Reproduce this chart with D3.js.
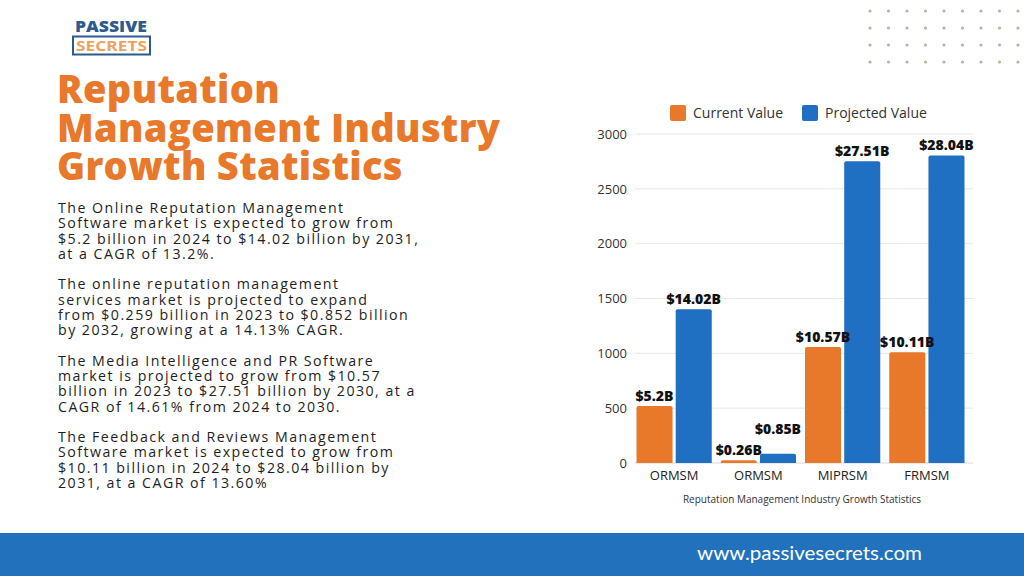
<!DOCTYPE html>
<html><head><meta charset="utf-8">
<script src="https://cdn.jsdelivr.net/npm/d3@7"></script>
<style>
html,body{margin:0;padding:0;background:#fff;}
svg{display:block;}
</style></head>
<body>
<svg id="c" width="1024" height="576"></svg>
<script>
// ---- data ----
const categories = ["ORMSM", "ORMSM ", "MIPRSM", "FRMSM"];
const seriesNames = ["Current Value", "Projected Value"];
const currentValues = [520, 26, 1057, 1011];
const projectedValues = [1402, 85, 2751, 2804];
const currentLabels = ["$5.2B", "$0.26B", "$10.57B", "$10.11B"];
const projectedLabels = ["$14.02B", "$0.85B", "$27.51B", "$28.04B"];
const yTicks = [0, 500, 1000, 1500, 2000, 2500, 3000];
const titleLines = ["Reputation", "Management Industry", "Growth Statistics"];
const paragraphs = [
  ["The Online Reputation Management", "Software market is expected to grow from", "$5.2 billion in 2024 to $14.02 billion by 2031,", "at a CAGR of 13.2%."],
  ["The online reputation management", "services market is projected to expand", "from $0.259 billion in 2023 to $0.852 billion", "by 2032, growing at a 14.13% CAGR."],
  ["The Media Intelligence and PR Software", "market is projected to grow from $10.57", "billion in 2023 to $27.51 billion by 2030, at a", "CAGR of 14.61% from 2024 to 2030."],
  ["The Feedback and Reviews Management", "Software market is expected to grow from", "$10.11 billion in 2024 to $28.04 billion by", "2031, at a CAGR of 13.60%"]
];

const ORANGE = "#E8782A", BLUE = "#1F6FC2";
const svg = d3.select("#c");

// ---- footer ----
svg.append("rect").attr("x",0).attr("y",533).attr("width",1024).attr("height",43).attr("fill","#2171BD");
svg.append("text").attr("x",697).attr("y",560).attr("font-family","Lato, sans-serif").attr("font-size",18.5)
  .attr("fill","#fff").text("www.passivesecrets.com")
  .each(function(){ const w=this.getComputedTextLength(); d3.select(this).attr("textLength",225).attr("lengthAdjust","spacingAndGlyphs"); });

// ---- dots ----
const dotG = svg.append("g");
for (let r=0;r<4;r++) for (let c=0;c<9;c++)
  dotG.append("circle").attr("cx",870+c*18.5).attr("cy",11+r*17).attr("r",1.6).attr("fill","#b8b4a4");

// ---- logo ----
svg.append("text").attr("x",111).attr("y",32).attr("text-anchor","middle").attr("font-family","'Open Sans', sans-serif")
  .attr("font-weight",800).attr("font-size",15).attr("fill","#2D5B8E").attr("textLength",72).attr("lengthAdjust","spacingAndGlyphs").text("PASSIVE");
svg.append("rect").attr("x",73).attr("y",36.5).attr("width",77).attr("height",18).attr("fill","none").attr("stroke","#2D5B8E").attr("stroke-width",2);
svg.append("text").attr("x",111.5).attr("y",51).attr("text-anchor","middle").attr("font-family","'Open Sans', sans-serif")
  .attr("font-weight",700).attr("font-size",14.5).attr("fill","#E9A460").attr("textLength",71).attr("lengthAdjust","spacingAndGlyphs").text("SECRETS");

// ---- title ----
const titleG = svg.append("g").attr("font-family","'Open Sans', sans-serif").attr("font-weight",800).attr("font-size",38).attr("fill",ORANGE);
const titleBase = [103, 142, 180];
const tt = titleG.selectAll("text").data(titleLines).join("text").attr("x",57).attr("y",(d,i)=>titleBase[i]).text(d=>d);
// fit letter-spacing to reference width of longest line
{
  const node = tt.nodes()[1];
  const w = node.getComputedTextLength();
  const ls = (443 - w) / (titleLines[1].length - 1);
  titleG.attr("letter-spacing", ls);
}

// ---- paragraphs ----
const pg = svg.append("g").attr("font-family","'Open Sans', sans-serif").attr("font-size",14.2).attr("fill","#1e1e1e");
paragraphs.forEach((lines,pi)=>{
  lines.forEach((ln,li)=>{
    pg.append("text").attr("x",58).attr("y",213 + pi*76.3 + li*15.3).text(ln);
  });
});
{
  const ref = pg.selectAll("text").nodes()[1];
  const w = ref.getComputedTextLength();
  const ls = (335 - w) / (paragraphs[0][1].length - 1);
  pg.attr("letter-spacing", ls);
}

// ---- chart ----
const y = d3.scaleLinear().domain([0,3000]).range([463,134]);
const x0 = d3.scaleBand().domain(categories).range([632,969]).padding(0);
const x1 = d3.scaleBand().domain(seriesNames).range([4.5, x0.bandwidth()-4.5]).paddingInner(0.08);

// gridlines
svg.append("g").selectAll("line").data(yTicks).join("line")
  .attr("x1",635).attr("x2",973).attr("y1",d=>y(d)).attr("y2",d=>y(d))
  .attr("stroke",d=>d===0?"#d8d8d8":"#e6e6e6").attr("stroke-width",1);

// y axis
const yAxis = svg.append("g").attr("transform","translate(627,0)")
  .call(d3.axisLeft(y).tickValues(yTicks).tickSize(0).tickPadding(0).tickFormat(d3.format("d")));
yAxis.select(".domain").remove();
yAxis.selectAll("text").attr("font-family","'Open Sans', sans-serif").attr("font-size",13).attr("fill","#333");

// x axis
const xAxis = svg.append("g").attr("transform","translate(0,468)")
  .call(d3.axisBottom(x0).tickSize(0).tickPadding(0).tickFormat(d=>d.trim()));
xAxis.select(".domain").remove();
xAxis.selectAll("text").attr("font-family","'Open Sans', sans-serif").attr("font-size",13).attr("fill","#222").attr("dy","0.9em");

// bars
const rows = categories.map((c,i)=>({cat:c, vals:[
  {key:seriesNames[0], v:currentValues[i], label:currentLabels[i], color:ORANGE},
  {key:seriesNames[1], v:projectedValues[i], label:projectedLabels[i], color:BLUE}]}));

function barPath(x, yTop, w, yBase, r){
  const h = yBase - yTop; r = Math.min(r, h, w/2);
  return `M${x},${yBase}V${yTop+r}Q${x},${yTop} ${x+r},${yTop}H${x+w-r}Q${x+w},${yTop} ${x+w},${yTop+r}V${yBase}Z`;
}
const grp = svg.append("g").selectAll("g").data(rows).join("g").attr("transform",d=>`translate(${x0(d.cat)},0)`);
grp.selectAll("path").data(d=>d.vals).join("path")
  .attr("d",d=>barPath(x1(d.key), y(d.v), x1.bandwidth(), y(0), 2))
  .attr("fill",d=>d.color);

// value labels with simple collision avoidance
grp.each(function(d){
  const g = d3.select(this);
  const ys = d.vals.map(v=>y(v.v)-5);
  if (Math.abs(ys[1]-ys[0]) < 18) ys[1] = Math.min(ys[1], ys[0]-21);
  d.vals.forEach((v,i)=>{
    g.append("text").attr("x",x1(v.key)+x1.bandwidth()/2).attr("y",ys[i])
      .attr("text-anchor","middle").attr("font-family","'Open Sans', sans-serif").attr("font-weight",800)
      .attr("font-size",14).attr("fill","#111").text(v.label);
  });
});

// legend
const lg = svg.append("g");
seriesNames.forEach((s,i)=>{
  const lx = [670, 802][i];
  lg.append("rect").attr("x",lx).attr("y",105).attr("width",16).attr("height",16).attr("rx",2).attr("fill",[ORANGE,BLUE][i]);
  lg.append("text").attr("x",lx+23).attr("y",118).attr("font-family","'Open Sans', sans-serif").attr("font-size",14).attr("fill","#333").text(s);
});

// caption
svg.append("text").attr("x",802).attr("y",503).attr("text-anchor","middle").attr("font-family","'Open Sans', sans-serif")
  .attr("font-size",10).attr("fill","#333").text("Reputation Management Industry Growth Statistics");
</script>
</body></html>
